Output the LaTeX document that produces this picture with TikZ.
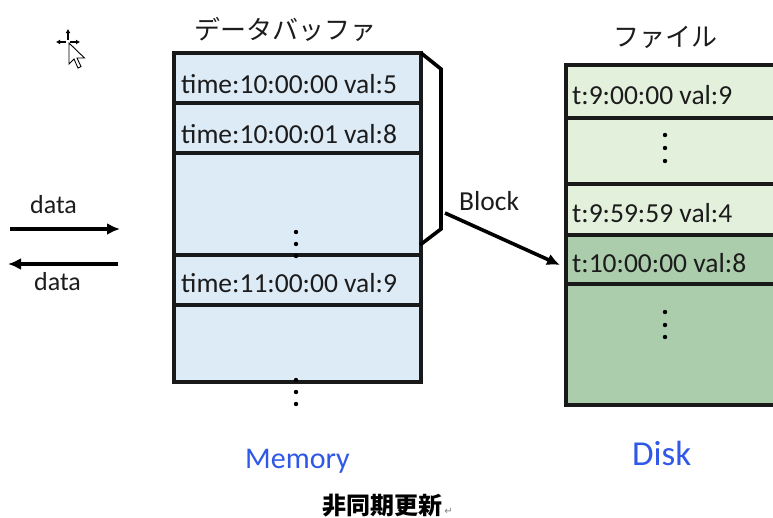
\documentclass[tikz,border=0pt]{standalone}
\usepackage{fontspec}
\setmainfont{Carlito}
\newfontfamily\jpfont{Noto Sans CJK JP}
\newfontfamily\symbfont{DejaVu Sans}
\usetikzlibrary{arrows.meta,positioning}

\definecolor{membg}{RGB}{221,235,247}
\definecolor{filelight}{RGB}{227,240,219}
\definecolor{filedark}{RGB}{171,205,172}
\definecolor{capblue}{RGB}{48,88,230}
\definecolor{ink}{RGB}{28,28,28}

\tikzset{
  entry/.style={anchor=base west, inner sep=0pt, text=ink, font=\fontsize{27.5}{32}\selectfont},
  title/.style={anchor=base, inner sep=0pt, text=ink, font=\jpfont\fontsize{26}{30}\selectfont},
  place/.style={anchor=base west, inner sep=0pt, text=capblue},
  cell/.style={line width=3.4pt, draw=black!90},
  flow/.style={line width=3.6pt, -{Latex[length=13pt,width=12pt]}},
}

\begin{document}
\begin{tikzpicture}[x=1pt,y=-1pt]
\useasboundingbox (0,0) rectangle (773,517);
\clip (0,0) rectangle (773,517);

% cursor
\begin{scope}[shift={(68,42)}, line width=1.1pt]
\draw[-{Latex[length=4pt,width=5pt]}] (0,-2) -- (0,-13);
\draw[-{Latex[length=4pt,width=5pt]}] (-2,0) -- (-12,0);
\draw[-{Latex[length=4pt,width=5pt]}] (2,0) -- (12,0);
\draw[line width=.9pt, fill=white] (1,1) -- (1,22) -- (6,17) -- (10,26) -- (13,24.6) -- (9,16) -- (16.5,16) -- cycle;
\end{scope}

% buffer in memory
\node[title] (buf) at (285,39) {データバッファ};
\begin{scope}[shift={(174,53)}]
\fill[membg] (0,0) rectangle (247,329);
\draw[cell] (0,0) rectangle (247,329);
\foreach \y in {50,100,202,252}
  \draw[cell] (0,\y) -- (247,\y);
\node[entry] (m1) at (7,40) {time:10:00:00 val:5};
\node[entry] (m2) at (7,90) {time:10:00:01 val:8};
\node[entry] (m3) at (7,239) {time:11:00:00 val:9};
\foreach \y in {179,191,203}
  \fill (122,\y) circle (2.2pt);
\foreach \y in {327,339,351}
  \fill (122,\y) circle (2.2pt);
\end{scope}
\node[place, font=\fontsize{30}{36}\selectfont] (mem) at (245,468) {Memory};

% block
\draw[line width=3.6pt] (421,53) -- (441,69) -- (441,229) -- (420,245);
\node[entry] (blocklbl) at (459,210) {Block};
\coordinate (blk) at (445,213);
\coordinate (hit) at (560,265);
\draw[flow] (blk) -- (hit);

% file on disk
\node[title] (file) at (665,46) {ファイル};
\begin{scope}[shift={(566,65)}]
\fill[filelight] (0,0) rectangle (230,170);
\fill[filedark] (0,170) rectangle (230,340);
\draw[cell] (0,0) rectangle (230,340);
\foreach \y in {53,119,170,219}
  \draw[cell] (0,\y) -- (230,\y);
\node[entry] (f1) at (6,39) {t:9:00:00 val:9};
\node[entry] (f2) at (6,157) {t:9:59:59 val:4};
\node[entry] (f3) at (6,207) {t:10:00:00 val:8};
\foreach \y in {70,83,96}
  \fill (99,\y) circle (2.2pt);
\foreach \y in {247,260,272}
  \fill (99,\y) circle (2.2pt);
\end{scope}
\node[place, font=\fontsize{35}{40}\selectfont] (disk) at (632,465) {Disk};

% data in / out
\coordinate (inL) at (10,229);
\coordinate (inR) at (120,229);
\coordinate (outR) at (118,264);
\coordinate (outL) at (8,264);
\draw[flow] (inL) -- (inR);
\draw[flow] (outR) -- (outL);
\node[entry, font=\fontsize{26}{30}\selectfont] (din) at (30,213) {data};
\node[entry, font=\fontsize{26}{30}\selectfont] (dout) at (34,290) {data};

% caption
\node[anchor=base, inner sep=0pt, text=black, font=\jpfont\bfseries\fontsize{24}{28}\selectfont] (cap) at (382,514) {非同期更新};
\node[anchor=base west, inner sep=0pt, xshift=2pt, text=gray, font=\symbfont\fontsize{10}{12}\selectfont] (ret) at (cap.base east) {↵};
\end{tikzpicture}
\end{document}
